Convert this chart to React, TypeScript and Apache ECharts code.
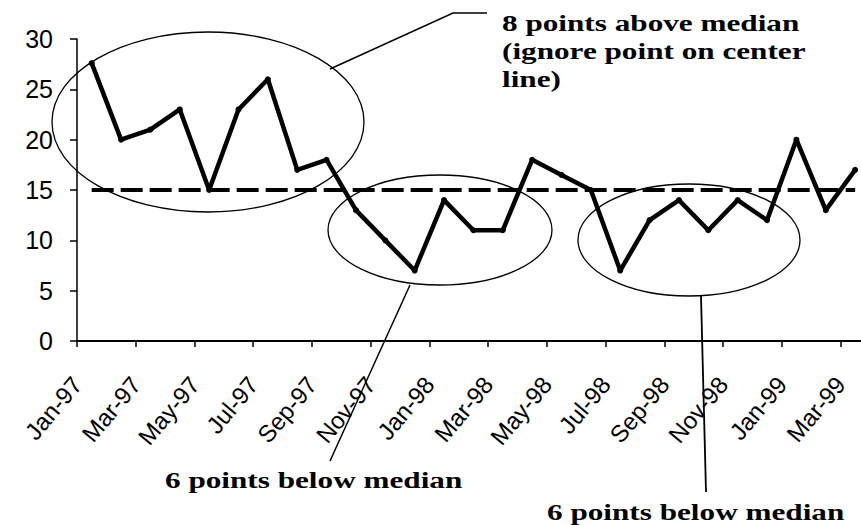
import React, { useEffect, useRef } from "react";
import * as echarts from "echarts";

const months = [
  "Jan-97", "Feb-97", "Mar-97", "Apr-97", "May-97", "Jun-97", "Jul-97", "Aug-97", "Sep-97",
  "Oct-97", "Nov-97", "Dec-97", "Jan-98", "Feb-98", "Mar-98", "Apr-98", "May-98", "Jun-98",
  "Jul-98", "Aug-98", "Sep-98", "Oct-98", "Nov-98", "Dec-98", "Jan-99", "Feb-99", "Mar-99",
];
const values = [
  27.6, 20, 21, 23, 15, 23, 26, 17, 18,
  13, 10, 7, 14, 11, 11, 18, 16.5, 15,
  7, 12, 14, 11, 14, 12, 20, 13, 17,
];
const median = [
  15, 15, 15, 15, 15, 15, 15, 15, 15,
  15, 15, 15, 15, 15, 15, 15, 15, 15,
  15, 15, 15, 15, 15, 15, 15, 15, 15,
];
const yTicks = [0, 5, 10, 15, 20, 25, 30];
const notes = [
  "8 points above median\n(ignore point on center\nline)",
  "6 points below median",
  "6 points below median",
];

const sans = "Liberation Sans";

export default function App() {
  const ref = useRef<HTMLDivElement>(null);
  useEffect(() => {
    if (!ref.current) return;
    const chart = echarts.init(ref.current, null, { renderer: "svg" });
    const xMin = 0;
    const xMax = 26.7;
    const noteStyle = { font: "bold 24px 'Liberation Serif'", fill: "#000" };
    const sx = 1.3;
    chart.setOption({
      animation: false,
      backgroundColor: "#ffffff",
      grid: { left: 77, top: 39, right: 0, bottom: 184, containLabel: false },
      xAxis: [
        {
          type: "value",
          min: xMin,
          max: xMax,
          interval: 2,
          splitLine: { show: false },
          axisLine: { show: true, onZero: false, lineStyle: { color: "#000", width: 2 } },
          axisTick: { show: true, length: 6, lineStyle: { color: "#000", width: 1.5 } },
          axisLabel: {
            rotate: 50,
            margin: 39,
            fontSize: 24,
            fontFamily: sans,
            color: "#000",
            showMaxLabel: false,
            formatter: (v: number) =>
              Number.isInteger(v) && v % 2 === 0 && months[v] ? months[v] : "",
          },
        },
        {
          type: "value",
          position: "top",
          min: xMin,
          max: xMax,
          splitLine: { show: false },
          axisLine: { show: true, lineStyle: { color: "#000", width: 1.5 } },
          axisTick: { show: false },
          axisLabel: { show: false },
        },
      ],
      yAxis: {
        type: "value",
        min: yTicks[0],
        max: yTicks[yTicks.length - 1],
        interval: 5,
        splitLine: { show: false },
        axisLine: { show: true, lineStyle: { color: "#000", width: 1.5 } },
        axisTick: { show: true, length: 7, lineStyle: { color: "#000", width: 1.5 } },
        axisLabel: { fontSize: 25, fontFamily: sans, color: "#000", margin: 24 },
      },
      series: [
        {
          type: "line",
          data: median.map((v, i) => [i + 0.5, v]),
          symbol: "none",
          lineStyle: { color: "#000", width: 4, type: [22, 7] },
          z: 2,
        },
        {
          type: "line",
          data: values.map((v, i) => [i + 0.5, v]),
          symbol: "circle",
          symbolSize: 6,
          itemStyle: { color: "#000" },
          lineStyle: { color: "#000", width: 4.5 },
          z: 3,
        },
      ],
      graphic: [
        { type: "ellipse", shape: { cx: 208, cy: 122, rx: 156, ry: 90 }, style: { fill: "none", stroke: "#000", lineWidth: 1.3 }, z: 10 },
        { type: "ellipse", shape: { cx: 440, cy: 230, rx: 112, ry: 55 }, style: { fill: "none", stroke: "#000", lineWidth: 1.3 }, z: 10 },
        { type: "ellipse", shape: { cx: 689, cy: 240, rx: 111, ry: 56 }, style: { fill: "none", stroke: "#000", lineWidth: 1.3 }, z: 10 },
        { type: "rect", shape: { x: 493, y: 0, width: 344, height: 96 }, style: { fill: "#fff" }, z: 20 },
        { type: "polyline", shape: { points: [[330, 69], [453, 13], [487, 13]] }, style: { fill: "none", stroke: "#000", lineWidth: 1.5 }, z: 21 },
        { type: "line", shape: { x1: 410, y1: 285, x2: 330, y2: 461 }, style: { stroke: "#000", lineWidth: 1.5 }, z: 21 },
        { type: "line", shape: { x1: 701, y1: 296, x2: 706, y2: 492 }, style: { stroke: "#000", lineWidth: 1.8 }, z: 21 },
        { type: "text", x: 502, y: 9, scaleX: sx, style: { ...noteStyle, text: notes[0], lineHeight: 28, verticalAlign: "top", align: "left" }, z: 22 },
        { type: "text", x: 165, y: 480, scaleX: sx, style: { ...noteStyle, text: notes[1], verticalAlign: "middle", align: "left" }, z: 22 },
        { type: "text", x: 547, y: 512, scaleX: sx, style: { ...noteStyle, text: notes[2], verticalAlign: "middle", align: "left" }, z: 22 },
      ],
    });
    return () => chart.dispose();
  }, []);
  return <div ref={ref} style={{ width: 861, height: 525, position: "absolute", left: 0, top: 0 }} />;
}
